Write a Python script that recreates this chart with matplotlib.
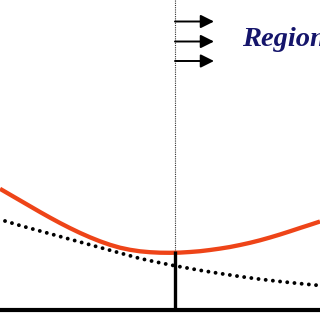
import numpy as np
import matplotlib
matplotlib.use("Agg")
import matplotlib.pyplot as plt

# Curve samples (x position, height measured downward from top, in px units)
x_red = list(range(0, 330, 10))
y_red = [188.8, 194.6, 200.4, 206.2, 212, 217.6, 223, 228.1, 232.9, 237.3, 241.3, 244.8, 247.7,
         249.8, 251.3, 252.2, 252.7, 252.8, 252.6, 252, 251.2, 250, 248.6, 247, 245,
         242.8, 240.3, 237.5, 234.5, 231.3, 228, 224.8, 221.5]

x_dot = [5, 20, 40, 60, 80, 100, 120, 140, 160, 175, 200, 220, 240, 260, 280, 300, 320]
y_dot = [221, 225.5, 231, 236.5, 242, 247.5, 253, 258.5, 262.8, 265.8, 270.3, 273.5,
         276.5, 279.2, 281.5, 283.6, 285.5]

x_split = 175
y_base = 310
arrow_rows = [21.5, 41.5, 61]
label = "Region"

fig = plt.figure(figsize=(3.2, 3.2), dpi=100)
ax = fig.add_axes([0, 0, 1, 1])
ax.set_xlim(0, 320)
ax.set_ylim(320, 0)
ax.axis("off")

ax.plot(x_red, y_red, color="#EE4418", lw=3.1, solid_capstyle="butt",
        solid_joinstyle="round", zorder=3)
ax.plot(x_dot, y_dot, color="black", lw=2.8, linestyle=(0, (0.01, 1.85)),
        dash_capstyle="round", zorder=2)

y_top = np.interp(x_split, x_red, y_red)
# thin dotted divider
ax.plot([x_split, x_split], [0, y_top], color="#333333",
        lw=0.8, linestyle=(0, (1, 1)), zorder=1)
# thick vertical
ax.plot([x_split, x_split], [y_top - 1.5, y_base], color="black",
        lw=2.4, solid_capstyle="butt", zorder=4)
# baseline
ax.plot([0, 320], [y_base, y_base], color="black", lw=3.0, solid_capstyle="butt", zorder=4)

for yr in arrow_rows:
    ax.annotate("", xy=(214, yr), xytext=(x_split, yr),
                arrowprops=dict(arrowstyle="-|>", color="black", lw=1.4,
                                mutation_scale=20, shrinkA=0, shrinkB=0))

ax.text(242.5, 45.5, label, fontfamily="Liberation Serif", fontstyle="italic",
        fontweight="bold", fontsize=20.5, color="#15156B", va="baseline", ha="left")

fig.savefig("out.png", dpi=100)
